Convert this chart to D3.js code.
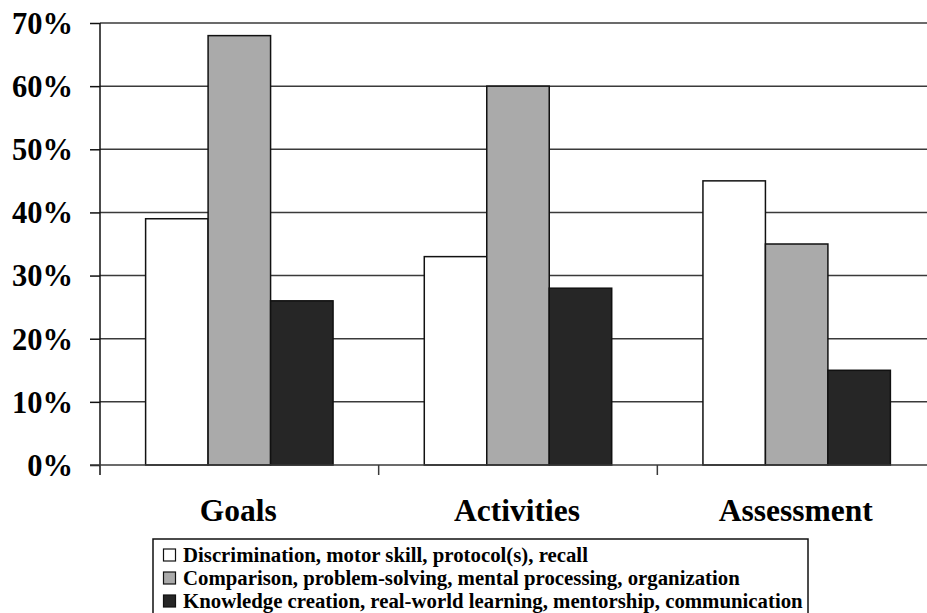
<!DOCTYPE html>
<html><head><meta charset="utf-8">
<script src="https://cdn.jsdelivr.net/npm/d3@7"></script>
<style>
html,body{margin:0;padding:0;background:#fff;}
svg{display:block;font-family:"Liberation Serif","Times New Roman",serif;font-weight:bold;}
</style></head><body>
<svg id="c" width="927" height="613"></svg>
<script>
const categories = ["Goals", "Activities", "Assessment"];
const seriesNames = [
  "Discrimination, motor skill, protocol(s), recall",
  "Comparison, problem-solving, mental processing, organization",
  "Knowledge creation, real-world learning, mentorship, communication"
];
const discrimination = [39, 33, 45];
const comparison = [68, 60, 35];
const knowledge = [26, 28, 15];
const yTicks = [0, 10, 20, 30, 40, 50, 60, 70];
const seriesFills = ["#ffffff", "#aaaaaa", "#262626"];

const seriesValues = [discrimination, comparison, knowledge];
const svg = d3.select("#c");
const W = 927;
const mLeft = 100, mRight = 936, mTop = 23, mBottom = 465;

const y = d3.scaleLinear().domain([0, 70]).range([mBottom, mTop]);
const x0 = d3.scaleBand().domain(categories).range([mLeft, mRight]).paddingInner(0).paddingOuter(0);
const x1 = d3.scaleBand().domain(d3.range(3)).range([0, x0.bandwidth()]).paddingInner(0).paddingOuter(0.73);

// gridlines
svg.append("g").selectAll("line").data(yTicks.filter(d => d > 0)).join("line")
  .attr("x1", mLeft).attr("x2", W).attr("y1", d => y(d)).attr("y2", d => y(d))
  .attr("stroke", "#3a3a3a").attr("stroke-width", 1.5);

// bars
const g = svg.append("g");
categories.forEach((c, ci) => {
  seriesValues.forEach((vals, si) => {
    g.append("rect")
      .attr("x", x0(c) + x1(si))
      .attr("y", y(vals[ci]))
      .attr("width", x1.bandwidth())
      .attr("height", y(0) - y(vals[ci]))
      .attr("fill", seriesFills[si])
      .attr("stroke", "#111").attr("stroke-width", 1.5);
  });
});

// y axis
const yAxis = d3.axisLeft(y).tickValues(yTicks).tickFormat(d => d + "%").tickSize(10).tickPadding(17);
const ya = svg.append("g").attr("transform", `translate(${mLeft},0)`).call(yAxis);
ya.select(".domain").remove();
ya.selectAll(".tick line").attr("stroke", "#111").attr("stroke-width", 1.5);
ya.selectAll(".tick text").attr("font-size", 30.5).attr("font-weight", "bold")
  .attr("font-family", '"Liberation Serif","Times New Roman",serif').attr("fill", "#000").attr("dy", "0.34em");
svg.append("line").attr("x1", mLeft).attr("x2", mLeft).attr("y1", mTop).attr("y2", mBottom + 10)
  .attr("stroke", "#111").attr("stroke-width", 1.5);

// x axis
svg.append("line").attr("x1", mLeft - 10).attr("x2", W).attr("y1", mBottom).attr("y2", mBottom)
  .attr("stroke", "#3a3a3a").attr("stroke-width", 1.5);
svg.append("g").selectAll("line").data(categories.slice(1)).join("line")
  .attr("x1", d => x0(d)).attr("x2", d => x0(d)).attr("y1", mBottom).attr("y2", mBottom + 10)
  .attr("stroke", "#3a3a3a").attr("stroke-width", 1.5);
svg.append("g").selectAll("text").data(categories).join("text")
  .attr("x", d => x0(d) + x0.bandwidth() / 2 - 1)
  .attr("y", 521)
  .attr("text-anchor", "middle").attr("font-size", 31.5).attr("fill", "#000")
  .text(d => d);

// legend
const lg = svg.append("g");
lg.append("rect").attr("x", 153).attr("y", 539).attr("width", 655).attr("height", 80)
  .attr("fill", "#fff").attr("stroke", "#111").attr("stroke-width", 1.5);
seriesNames.forEach((n, i) => {
  const by = 562 + i * 23;
  lg.append("rect").attr("x", 163.5).attr("y", by - 13).attr("width", 12).attr("height", 12)
    .attr("fill", seriesFills[i]).attr("stroke", "#111").attr("stroke-width", 1.2);
  lg.append("text").attr("x", 183).attr("y", by).attr("font-size", 20.8).attr("fill", "#000").text(n);
});
</script>
</body></html>
